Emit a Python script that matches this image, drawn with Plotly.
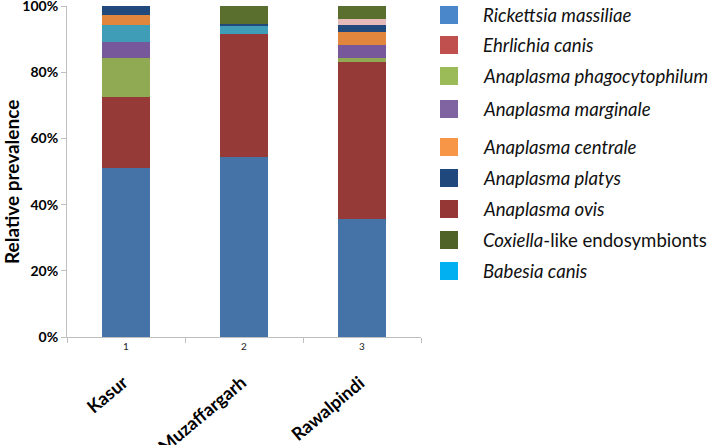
import plotly.graph_objects as go

# ---- data (percent of each district) ----
districts = ["Kasur", "Muzaffargarh", "Rawalpindi"]
tick_labels = ["1", "2", "3"]

rickettsia_massiliae = [51.1, 54.4, 35.7]
anaplasma_ovis = [21.5, 37.1, 47.5]
anaplasma_phagocytophilum = [11.6, 0.0, 1.0]
anaplasma_marginale = [5.0, 0.0, 3.9]
babesia_canis = [5.1, 2.5, 0.0]
anaplasma_centrale = [3.0, 0.0, 4.0]
anaplasma_platys = [2.7, 0.6, 2.1]
ehrlichia_canis = [0.0, 0.0, 1.9]
coxiella_like = [0.0, 5.4, 3.9]

series_names = ["Rickettsia massiliae", "Anaplasma ovis", "Anaplasma phagocytophilum",
                "Anaplasma marginale", "Babesia canis", "Anaplasma centrale",
                "Anaplasma platys", "Ehrlichia canis", "Coxiella-like endosymbionts"]
series_values = [rickettsia_massiliae, anaplasma_ovis, anaplasma_phagocytophilum,
                 anaplasma_marginale, babesia_canis, anaplasma_centrale,
                 anaplasma_platys, ehrlichia_canis, coxiella_like]
bar_colors = ["#4572A7", "#963A37", "#8FAA52", "#77599B", "#3F9DB8", "#E0873D",
              "#22497C", "#E6BAB9", "#5A6E2E"]

legend_labels = ["<i>Rickettsia massiliae</i>", "<i>Ehrlichia canis</i>",
                 "<i>Anaplasma phagocytophilum</i>", "<i>Anaplasma marginale</i>",
                 "<i>Anaplasma centrale</i>", "<i>Anaplasma platys</i>",
                 "<i>Anaplasma ovis</i>", "<i>Coxiella</i>-like endosymbionts",
                 "<i>Babesia canis</i>"]
legend_colors = ["#4A86CA", "#C0504D", "#9BBB59", "#8064A2", "#F79646", "#1F497D",
                 "#953735", "#4F6228", "#00B0F0"]
legend_rows_px = [15, 45, 76, 109, 147, 178, 209, 240, 271]

W, H = 709, 445
L, R, T, B = 67, 288, 6, 108
pw, ph = W - L - R, H - T - B


def px_x(p):
    return (p - L) / pw


def px_y(p):
    return (H - B - p) / ph


fig = go.Figure()
for name, vals, col in zip(series_names, series_values, bar_colors):
    fig.add_trace(go.Bar(x=tick_labels, y=vals, name=name, marker_color=col,
                         marker_line_width=0, showlegend=False))

FONT = "Lato"
shapes = []
annotations = []
for lab, col, ry in zip(legend_labels, legend_colors, legend_rows_px):
    shapes.append(dict(type="rect", xref="paper", yref="paper",
                       x0=px_x(440), x1=px_x(458), y0=px_y(ry + 9), y1=px_y(ry - 9),
                       fillcolor=col, line_width=0))
    annotations.append(dict(xref="paper", yref="paper", x=px_x(481), y=px_y(ry),
                            xanchor="left", yanchor="middle", text=lab, showarrow=False,
                            font=dict(family=FONT, size=18.6, color="#111111")))

for i, d in enumerate(districts):
    annotations.append(dict(xref="x", yref="paper", x=i, y=px_y(368), xshift=9,
                            xanchor="right", yanchor="top", text=d, textangle=-40,
                            showarrow=False,
                            font=dict(family=FONT, size=18, color="black", weight="bold")))

annotations.append(dict(xref="paper", yref="paper", x=px_x(11), y=px_y(182),
                        xanchor="center", yanchor="middle", text="Relative prevalence",
                        textangle=-90, showarrow=False,
                        font=dict(family=FONT, size=19, color="black", weight="bold")))

fig.update_layout(
    width=W, height=H,
    margin=dict(l=L, r=R, t=T, b=B, pad=0),
    barmode="stack", bargap=0.6,
    plot_bgcolor="white", paper_bgcolor="white",
    shapes=shapes, annotations=annotations,
    font=dict(family=FONT),
)
fig.update_xaxes(type="category", showline=True, linecolor="#BFBFBF", linewidth=1,
                 ticks="outside", tickson="boundaries", ticklen=5, tickcolor="#BFBFBF",
                 tickfont=dict(family=FONT, size=10, color="#222222"),
                 showgrid=False, zeroline=False, automargin=False)
fig.update_yaxes(range=[0, 100], dtick=20, ticksuffix="%", showline=True,
                 linecolor="#BFBFBF", linewidth=1, ticks="outside", ticklen=5,
                 tickcolor="#BFBFBF", showgrid=False, zeroline=False, automargin=False,
                 ticklabeloverflow="allow",
                 tickfont=dict(family=FONT, size=14, color="black", weight="bold"))

fig.write_html("out.html", config={"displayModeBar": False},
               post_script="document.body.style.margin='0px';")
